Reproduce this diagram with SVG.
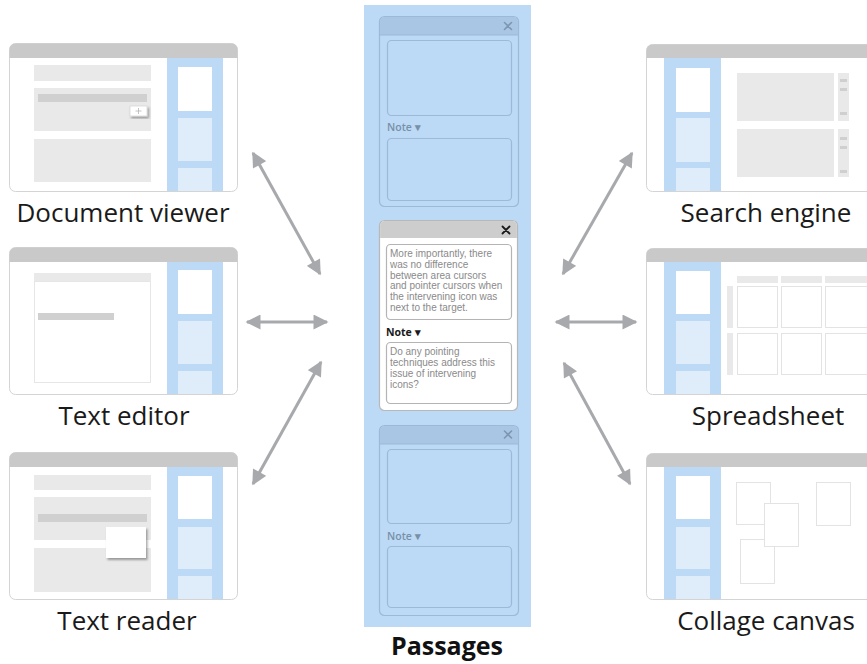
<svg xmlns="http://www.w3.org/2000/svg" width="867" height="664" viewBox="0 0 867 664">
<style>
.win{fill:#fff;stroke:#d4d4d4;stroke-width:1}
.tb{fill:#c9c9c9}
.side{fill:#bcd9f5}
.bw{fill:#fff}
.bl{fill:#dfecfa}
.g{fill:#e9e9e9}
.gd{fill:#d0d0d0}
.cell{fill:#fff;stroke:#e3e3e3;stroke-width:1}
.lbl{font-family:"Open Sans","Liberation Sans",sans-serif;font-size:26px;fill:#1a1a1a;text-anchor:middle}
.pan{fill:#bcd9f5}
.card{fill:#bcd9f5;stroke:#9cb9d8;stroke-width:1.2}
.chd{fill:#a9c6e5}
.ibox{fill:none;stroke:#9cb9d8;stroke-width:1.2}
.note{font-family:"Open Sans","Liberation Sans",sans-serif;font-size:10.5px;font-weight:600;fill:#7890a8}
.x{stroke:#7d96b1;stroke-width:1.6;stroke-linecap:round}
.acard{fill:#fff;stroke:#b8b8b8;stroke-width:1.2}
.ahd{fill:#cdcdcd}
.abox{fill:#fff;stroke:#b4b4b4;stroke-width:1.2}
.t{font-family:"Liberation Sans",Arial,sans-serif;font-size:10px;fill:#8a8a8a}
.conn line{stroke:#a7a9ac;stroke-width:3;marker-start:url(#ah);marker-end:url(#ah)}
</style>
<defs>
<marker id="ah" viewBox="0 0 10 10" refX="9" refY="5" markerWidth="5.5" markerHeight="5" orient="auto-start-reverse" markerUnits="strokeWidth">
<path d="M0,0 L10,5 L0,10 z" fill="#a7a9ac"/>
</marker>
<filter id="sh" x="-20%" y="-20%" width="150%" height="150%">
<feDropShadow dx="1.5" dy="2" stdDeviation="1.3" flood-color="#000" flood-opacity="0.35"/>
</filter>
</defs>

<!-- Document viewer -->
<g id="document-viewer">
<rect class="win" x="9.5" y="43.5" width="228" height="148" rx="6"/>
<path class="tb" d="M9.5,58 V49.5 a6,6 0 0 1 6,-6 H231.5 a6,6 0 0 1 6,6 V58 z"/>
<rect class="side" x="167" y="58" width="56" height="133"/>
<rect class="bw" x="178" y="67" width="34" height="44"/>
<rect class="bl" x="178" y="118" width="34" height="43"/>
<rect class="bl" x="178" y="168" width="34" height="23"/>
<rect class="g" x="34" y="65" width="117" height="16"/>
<rect class="g" x="34" y="88" width="117" height="43"/>
<rect class="gd" x="38" y="94" width="109" height="8"/>
<rect x="130" y="106" width="17" height="10" fill="#fff" stroke="#d8d8d8" stroke-width="0.8" filter="url(#sh)"/>
<path d="M135.5,111 h6 M138.5,108 v6" stroke="#b5b5b5" stroke-width="0.8"/>
<rect class="g" x="34" y="139" width="117" height="43"/>
<text class="lbl" x="123" y="222">Document viewer</text>
</g>

<!-- Text editor -->
<g id="text-editor">
<rect class="win" x="9.5" y="247.5" width="228" height="147" rx="6"/>
<path class="tb" d="M9.5,262 V253.5 a6,6 0 0 1 6,-6 H231.5 a6,6 0 0 1 6,6 V262 z"/>
<rect class="side" x="167" y="262" width="56" height="132"/>
<rect class="bw" x="178" y="270" width="34" height="44"/>
<rect class="bl" x="178" y="321" width="34" height="43"/>
<rect class="bl" x="178" y="371" width="34" height="23"/>
<rect class="g" x="34" y="273" width="117" height="8"/>
<rect x="34.5" y="281.5" width="116" height="101" fill="#fff" stroke="#e6e6e6" stroke-width="1"/>
<rect class="gd" x="38" y="313" width="76" height="7"/>
<text class="lbl" x="124" y="425">Text editor</text>
</g>

<!-- Text reader -->
<g id="text-reader">
<rect class="win" x="9.5" y="452.5" width="228" height="147" rx="6"/>
<path class="tb" d="M9.5,467 V458.5 a6,6 0 0 1 6,-6 H231.5 a6,6 0 0 1 6,6 V467 z"/>
<rect class="side" x="167" y="467" width="56" height="132"/>
<rect class="bw" x="178" y="476" width="34" height="43"/>
<rect class="bl" x="178" y="527" width="34" height="42"/>
<rect class="bl" x="178" y="576" width="34" height="23"/>
<rect class="g" x="34" y="475" width="117" height="15"/>
<rect class="g" x="34" y="497" width="117" height="43"/>
<rect class="gd" x="38" y="514" width="109" height="8"/>
<rect class="g" x="34" y="548" width="117" height="44"/>
<rect x="106" y="527" width="40" height="31" fill="#fff" filter="url(#sh)"/>
<text class="lbl" x="127" y="630">Text reader</text>
</g>

<!-- Search engine -->
<g id="search-engine">
<rect class="win" x="646.5" y="44.5" width="240" height="147" rx="6"/>
<path class="tb" d="M646.5,58 V50.5 a6,6 0 0 1 6,-6 H886.5 V58 z"/>
<rect class="side" x="664" y="58" width="57" height="133"/>
<rect class="bw" x="676" y="68" width="34" height="44"/>
<rect class="bl" x="676" y="118" width="34" height="44"/>
<rect class="bl" x="676" y="168" width="34" height="23"/>
<rect class="g" x="737" y="73" width="97" height="48"/>
<rect class="g" x="737" y="129" width="97" height="48"/>
<rect class="g" x="838" y="73" width="11" height="48"/>
<rect class="g" x="838" y="129" width="11" height="48"/>
<g fill="#cfcfcf">
<rect x="840" y="79" width="7" height="3"/><rect x="840" y="88" width="7" height="3"/><rect x="840" y="112" width="7" height="3"/>
<rect x="840" y="137" width="7" height="3"/><rect x="840" y="146" width="7" height="3"/><rect x="840" y="170" width="7" height="3"/>
</g>
<text class="lbl" x="766" y="222">Search engine</text>
</g>

<!-- Spreadsheet -->
<g id="spreadsheet">
<rect class="win" x="646.5" y="248.5" width="240" height="146" rx="6"/>
<path class="tb" d="M646.5,262 V254.5 a6,6 0 0 1 6,-6 H886.5 V262 z"/>
<rect class="side" x="664" y="262" width="57" height="132"/>
<rect class="bw" x="676" y="271" width="34" height="43"/>
<rect class="bl" x="676" y="321" width="34" height="43"/>
<rect class="bl" x="676" y="371" width="34" height="23"/>
<rect class="g" x="737" y="276" width="41" height="7"/>
<rect class="g" x="781" y="276" width="41" height="7"/>
<rect class="g" x="825" y="276" width="50" height="7"/>
<rect class="g" x="727" y="286" width="6" height="42"/>
<rect class="g" x="727" y="333" width="6" height="42"/>
<rect class="cell" x="737.5" y="286.5" width="40" height="41"/>
<rect class="cell" x="781.5" y="286.5" width="40" height="41"/>
<rect class="cell" x="825.5" y="286.5" width="50" height="41"/>
<rect class="cell" x="737.5" y="333.5" width="40" height="41"/>
<rect class="cell" x="781.5" y="333.5" width="40" height="41"/>
<rect class="cell" x="825.5" y="333.5" width="50" height="41"/>
<text class="lbl" x="768" y="425">Spreadsheet</text>
</g>

<!-- Collage canvas -->
<g id="collage-canvas">
<rect class="win" x="646.5" y="453.5" width="240" height="146" rx="6"/>
<path class="tb" d="M646.5,467 V459.5 a6,6 0 0 1 6,-6 H886.5 V467 z"/>
<rect class="side" x="664" y="467" width="57" height="132"/>
<rect class="bw" x="676" y="476" width="34" height="43"/>
<rect class="bl" x="676" y="527" width="34" height="42"/>
<rect class="bl" x="676" y="576" width="34" height="23"/>
<rect class="cell" x="736.5" y="482.5" width="34" height="42"/>
<rect class="cell" x="740.5" y="539.5" width="34" height="44"/>
<rect class="cell" x="764.5" y="503.5" width="34" height="43"/>
<rect class="cell" x="816.5" y="482.5" width="34" height="43"/>
<text class="lbl" x="766" y="630">Collage canvas</text>
</g>

<!-- Passages panel -->
<g id="passages">
<rect class="pan" x="364" y="5" width="167" height="622"/>
<text x="447" y="655" font-family="'Open Sans','Liberation Sans',sans-serif" font-size="25" font-weight="700" fill="#111" text-anchor="middle">Passages</text>
</g>

<g id="passage-card-1">
<rect class="card" x="379.5" y="16.5" width="139" height="190" rx="5"/>
<path class="chd" d="M380.1,35 V21.5 a4.4,4.4 0 0 1 4.4,-4.4 H513.5 a4.4,4.4 0 0 1 4.4,4.4 V35 z"/>
<line x1="380" y1="35" x2="518" y2="35" stroke="#9cb9d8" stroke-width="1"/>
<path class="x" d="M504.5,22.5 l7,7 M511.5,22.5 l-7,7"/>
<rect class="ibox" x="387.5" y="40.5" width="124" height="75" rx="4"/>
<text class="note" x="387" y="131">Note ▾</text>
<rect class="ibox" x="387.5" y="138.5" width="124" height="62" rx="4"/>
</g>

<g id="passage-card-2">
<rect class="acard" x="379.5" y="220.5" width="138" height="190" rx="5"/>
<path class="ahd" d="M380.1,238 V225.5 a4.4,4.4 0 0 1 4.4,-4.4 H512.5 a4.4,4.4 0 0 1 4.4,4.4 V238 z"/>
<path d="M502.5,226.5 l7,7 M509.5,226.5 l-7,7" stroke="#1a1a1a" stroke-width="1.8" stroke-linecap="round"/>
<rect class="abox" x="386.5" y="244.5" width="125" height="75" rx="4"/>
<text class="t" x="390" y="257">More importantly, there</text>
<text class="t" x="390" y="268">was no difference</text>
<text class="t" x="390" y="278.5">between area cursors</text>
<text class="t" x="390" y="289">and pointer cursors when</text>
<text class="t" x="390" y="300">the intervening icon was</text>
<text class="t" x="390" y="310.5">next to the target.</text>
<text x="386" y="336" font-family="'Open Sans','Liberation Sans',sans-serif" font-size="10.5" font-weight="700" fill="#1a1a1a">Note ▾</text>
<rect class="abox" x="386.5" y="342.5" width="125" height="61" rx="4"/>
<text class="t" x="390" y="355">Do any pointing</text>
<text class="t" x="390" y="366">techniques address this</text>
<text class="t" x="390" y="377">issue of intervening</text>
<text class="t" x="390" y="388">icons?</text>
</g>

<g id="passage-card-3">
<rect class="card" x="379.5" y="425.5" width="139" height="190" rx="5"/>
<path class="chd" d="M380.1,444 V430.5 a4.4,4.4 0 0 1 4.4,-4.4 H513.5 a4.4,4.4 0 0 1 4.4,4.4 V444 z"/>
<line x1="380" y1="444" x2="518" y2="444" stroke="#9cb9d8" stroke-width="1"/>
<path class="x" d="M504.5,431 l7,7 M511.5,431 l-7,7"/>
<rect class="ibox" x="387.5" y="449.5" width="124" height="74" rx="4"/>
<text class="note" x="387" y="540">Note ▾</text>
<rect class="ibox" x="387.5" y="546.5" width="124" height="61" rx="4"/>
</g>

<!-- Connectors -->
<g id="connectors" class="conn">
<line x1="253" y1="153" x2="320" y2="274"/>
<line x1="247" y1="322" x2="327" y2="322"/>
<line x1="321" y1="362" x2="253" y2="484"/>
<line x1="632" y1="153" x2="563" y2="274"/>
<line x1="556" y1="322" x2="636" y2="322"/>
<line x1="564" y1="363" x2="630" y2="484"/>
</g>
</svg>
